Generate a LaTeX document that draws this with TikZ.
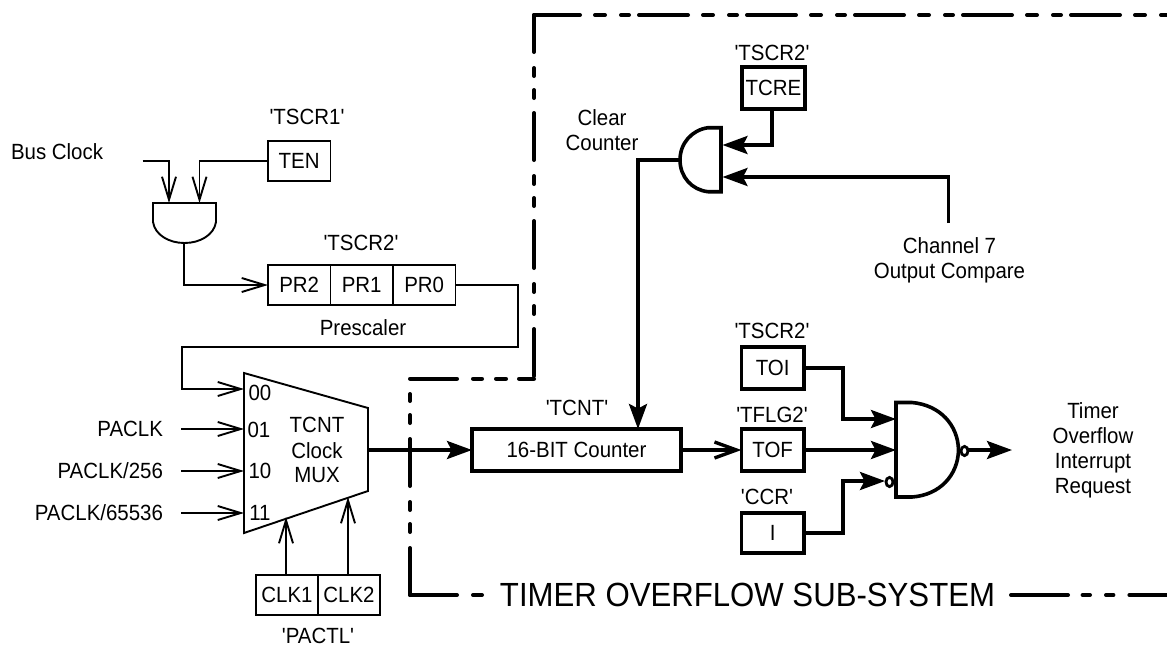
\documentclass[tikz,border=0pt]{standalone}
\usepackage{fontspec}
\usetikzlibrary{arrows.meta}
\newfontfamily\lab[FakeStretch=0.93]{Liberation Sans}
\tikzset{
  x=1pt,y=-1pt,
  lbl/.style={font=\lab\fontsize{22}{25}\selectfont,inner sep=0pt,outer sep=0pt,text height=15.7pt,text depth=0pt},
  mlbl/.style={font=\lab\fontsize{22}{25}\selectfont,inner sep=0pt,outer sep=0pt,align=center},
  regthin/.style={draw,line width=1.9pt,inner sep=0pt,outer sep=0pt,font=\lab\fontsize{22}{25}\selectfont,text height=15.7pt,text depth=0pt},
  regthick/.style={regthin,line width=3.6pt},
  thin line/.style={line width=1.9pt,line join=miter},
  thick line/.style={line width=3.6pt,line join=miter},
  openhead/.style={-{Straight Barb[length=23pt,width=14pt,line width=1.9pt]}},
  barbhead/.style={-{Straight Barb[length=22pt,width=16pt,line width=3.4pt]}},
  solidhead/.style={-{Stealth[length=25pt,width=18pt,inset=4.5pt]}},
  bound/.style={line width=4pt,line cap=round},
}
\begin{document}
\begin{tikzpicture}
\useasboundingbox (0,0) rectangle (1167,646);
% ---- boundary
\draw[bound,dash pattern=on 49pt off 15pt on 10pt off 16pt on 8pt off 10pt,dash phase=3pt] (534,15) -- (1167,15);
\draw[bound,dash pattern=on 47pt off 16pt on 8pt off 14pt on 8pt off 15pt,dash phase=10pt] (534,15) -- (534,378.7);
\draw[bound,dash pattern=on 47pt off 16pt on 9pt off 14pt on 10pt off 13pt] (410,378.7) -- (534,378.7);
\draw[bound,dash pattern=on 47pt off 16pt on 8pt off 14pt on 8pt off 16pt] (410,595) -- (410,394);
\draw[bound,dash pattern=on 47pt off 16pt on 9pt off 14pt] (410,595) -- (482,595);
\draw[bound,dash pattern=on 57pt off 14.6pt on 7.4pt off 16pt on 7.4pt off 16pt on 60pt] (1011,595) -- (1167,595);
\node[font=\lab\fontsize{33.5}{36}\selectfont,inner sep=0pt] (title) at (747.5,595) {TIMER OVERFLOW SUB-SYSTEM};

% ---- left registers
\node[regthin,minimum width=62.5pt,minimum height=40pt] (ten) at (299.2,160.7) {TEN};
\node[regthin,minimum width=62.5pt,minimum height=40pt] (pr2) at (299.2,285) {PR2};
\node[regthin,minimum width=62.5pt,minimum height=40pt] (pr1) at (361.7,285) {PR1};
\node[regthin,minimum width=62.5pt,minimum height=40pt] (pr0) at (424.2,285) {PR0};
\node[regthin,minimum width=62pt,minimum height=40pt] (clka) at (287,595) {CLK1};
\node[regthin,minimum width=62pt,minimum height=40pt] (clkb) at (349,595) {CLK2};

\node[lbl] (tscra) at (307,117) {'TSCR1'};
\node[lbl] (tscrb) at (361,243) {'TSCR2'};
\node[lbl] (presc) at (363,328) {Prescaler};
\node[lbl,anchor=west] (bus) at (11,152) {Bus Clock};
\node[lbl,anchor=east] (pa) at (163,429) {PACLK};
\node[lbl,anchor=east] (pb) at (163,471) {PACLK/256};
\node[lbl,anchor=east] (pc) at (163,513) {PACLK/65536};
\node[lbl] (pactl) at (318,635.5) {'PACTL'};

% ---- first AND gate
\coordinate (ga) at (153,203); \coordinate (gb) at (216,203);
\draw[thin line] (ga) -- (gb) -- (216,222) .. controls (214,235) and (200,243) .. (184.5,243)
  .. controls (169,243) and (155,235) .. (153,222) -- cycle;
\coordinate (gaout) at (184,243);
\coordinate (gain1) at (169,203);
\coordinate (gain2) at (199.5,203);
\coordinate (busend) at (142.5,160.7);
\draw[thin line,openhead] (busend) -| (gain1);
\draw[thin line,openhead] (ten.west) -| (gain2);
\draw[thin line,openhead] (gaout) |- (pr2.west);

% ---- MUX
\coordinate (mtl) at (244,373); \coordinate (mtr) at (368,408);
\coordinate (mbr) at (368,491); \coordinate (mbl) at (244,533);
\draw[thin line] (mtl) -- (mtr) -- (mbr) -- (mbl) -- cycle;
\node[lbl] (d00) at (260,393) {00};
\node[lbl] (d01) at (259,430) {01};
\node[lbl] (d10) at (260,471) {10};
\node[lbl] (d11) at (260,513) {11};
\node[lbl] (mxa) at (317,425) {TCNT};
\node[lbl] (mxb) at (317,451) {Clock};
\node[lbl] (mxc) at (317,475) {MUX};
\coordinate (in00) at (244,389);
\coordinate (in01) at (244,429);
\coordinate (in10) at (244,471);
\coordinate (in11) at (244,513);
\coordinate (sa) at (181,429); \coordinate (sb) at (181,471); \coordinate (sc) at (181,513);
\coordinate (w1) at (518,285); \coordinate (w2) at (518,347); \coordinate (w3) at (182,347);
\draw[thin line,openhead] (pr0.east) -- (w1) -- (w2) -- (w3) |- (in00);
\draw[thin line,openhead] (sa) -- (in01);
\draw[thin line,openhead] (sb) -- (in10);
\draw[thin line,openhead] (sc) -- (in11);
\coordinate (sela) at (286,517);
\coordinate (selb) at (348,497);
\draw[thin line,openhead] (sela |- clka.north) -- (sela);
\draw[thin line,openhead] (selb |- clkb.north) -- (selb);

% ---- counter and flags
\node[regthick,minimum width=209pt,minimum height=42pt] (cnt) at (576.5,450) {16-BIT Counter};
\node[lbl] (tcnt) at (577,408) {'TCNT'};
\coordinate (mout) at (368,450);
\draw[thick line,solidhead] (mout) -- (cnt.west);

\node[regthick,minimum width=62.5pt,minimum height=42pt] (toi) at (772.7,368) {TOI};
\node[regthick,minimum width=62.5pt,minimum height=42pt] (tof) at (772.7,450) {TOF};
\node[regthick,minimum width=62.5pt,minimum height=40pt] (ibit) at (772.7,533) {I};
\node[lbl] (tscrc) at (772,331) {'TSCR2'};
\node[lbl] (tflg) at (772,415) {'TFLG2'};
\node[lbl] (ccr) at (767,497) {'CCR'};
\draw[thick line,barbhead] (cnt.east) -- (tof.west);

% ---- output gate
\coordinate (na) at (896,402.5); \coordinate (nb) at (896,497);
\draw[thick line] (na) -- (912,402.5) .. controls (940,405) and (958,425) .. (958.5,450)
  .. controls (958,475) and (940,495) .. (912,497) -- (nb) -- cycle;
\coordinate (nin1) at (896,419);
\coordinate (nin2) at (896,450);
\coordinate (nin3) at (885,481);
\coordinate (bub1) at (889.5,482);
\draw[line width=2.8pt] (bub1) ellipse (3.5pt and 4.6pt);
\coordinate (bub2) at (964.5,451);
\draw[line width=2.8pt] (bub2) ellipse (3.5pt and 4.6pt);
\draw[thick line,solidhead] (toi.east) -- (843,368) -- (843,419) -- (nin1);
\draw[thick line,solidhead] (tof.east) -- (nin2);
\draw[thick line,solidhead] (ibit.east) -- (843,533) -- (843,481) -- (nin3);
\coordinate (nout) at (968,450);
\coordinate (nend) at (1012,450);
\draw[thick line,solidhead] (nout) -- (nend);
\node[mlbl] (req) at (1093,450) {Timer\\Overflow\\Interrupt\\Request};

% ---- clear gate
\node[regthick,minimum width=63pt,minimum height=42pt] (tcre) at (773.5,88) {TCRE};
\node[lbl] (tscrd) at (772,53) {'TSCR2'};
\coordinate (ca) at (721,127.7); \coordinate (cb) at (721,191.7);
\draw[thick line] (ca) -- (708,127.7) .. controls (692,130) and (680,143) .. (680,160)
  .. controls (680,177) and (692,190) .. (708,191.7) -- (cb) -- cycle;
\coordinate (cin1) at (722.5,145);
\coordinate (cin2) at (722.5,177);
\coordinate (cout) at (680,160);
\coordinate (chan) at (948.5,223);
\draw[thick line,solidhead] (772,109) |- (cin1);
\draw[thick line,solidhead] (chan) |- (cin2);
\draw[thick line,solidhead] (cout) -- (638,160) -- (638,429);
\node[mlbl] (clr) at (602,130.5) {Clear\\Counter};
\node[mlbl] (ocm) at (949.5,260) {Channel 7\\Output Compare};
\end{tikzpicture}
\end{document}
